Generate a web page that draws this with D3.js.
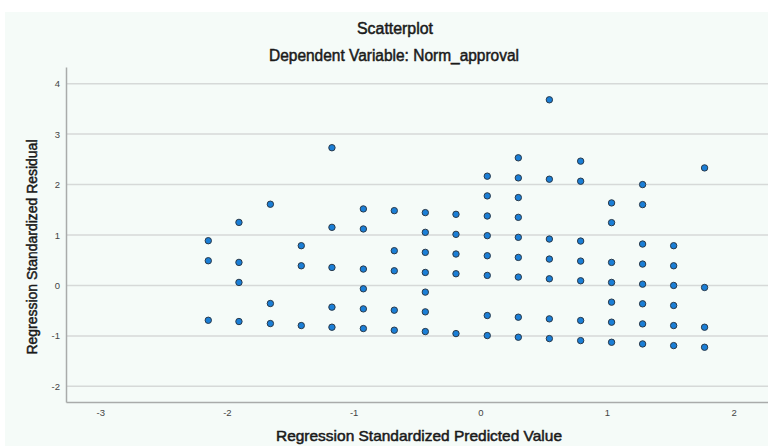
<!DOCTYPE html>
<html><head><meta charset="utf-8">
<script src="https://cdn.jsdelivr.net/npm/d3@7"></script>
<style>
body{margin:0;background:#fff;}
svg{display:block;font-family:"Liberation Sans",Arial,sans-serif;}
</style></head><body>
<svg id="c" width="768" height="446"></svg>
<script>
// Data: predicted value (x) and residual (y) columns
const xTicks = [-3, -2, -1, 0, 1, 2];
const yTicks = [-2, -1, 0, 1, 2, 3, 4];
const colX = [-2.147, -1.905, -1.657, -1.413, -1.171, -0.923, -0.679, -0.434, -0.192, 0.055, 0.30, 0.545, 0.792, 1.036, 1.281, 1.526, 1.77];
const colResiduals = [
  [0.887, 0.49, -0.69],
  [1.25, 0.457, 0.06, -0.715],
  [1.61, -0.358, -0.755],
  [0.788, 0.39, -0.795],
  [2.73, 1.152, 0.357, -0.43, -0.828],
  [1.517, 1.12, 0.325, -0.066, -0.464, -0.854],
  [1.483, 0.689, 0.291, -0.49, -0.887],
  [1.444, 1.053, 0.656, 0.258, -0.132, -0.523, -0.914],
  [1.41, 1.013, 0.623, 0.232, -0.954],
  [2.166, 1.775, 1.377, 0.987, 0.589, 0.199, -0.596, -0.993],
  [2.53, 2.132, 1.742, 1.35, 0.954, 0.556, 0.166, -0.629, -1.026],
  [3.68, 2.106, 0.92, 0.523, 0.132, -0.662, -1.053],
  [2.464, 2.066, 0.88, 0.483, 0.093, -0.695, -1.093],
  [1.636, 1.245, 0.457, 0.06, -0.331, -0.728, -1.126],
  [2.0, 1.603, 0.821, 0.424, 0.026, -0.364, -0.762, -1.159],
  [0.788, 0.39, 0.0, -0.397, -0.795, -1.192],
  [2.33, -0.04, -0.828, -1.225]
];
const title = "Scatterplot";
const subtitle = "Dependent Variable: Norm_approval";
const xTitle = "Regression Standardized Predicted Value";
const yTitle = "Regression Standardized Residual";

const points = [];
colX.forEach((xv, i) => colResiduals[i].forEach(yv => points.push({x: xv, y: yv})));

const svg = d3.select("#c");
const W = 768, H = 446;
const mLeft = 66, mTop = 67, mBottom = 402;
const x = d3.scaleLinear().domain([-3.27, 2.3]).range([mLeft, mLeft + 5.57 * 126.7]);
const y = d3.scaleLinear().domain([-2.31, 4.33]).range([mBottom, mTop]);

// panel background
svg.append("rect").attr("x", 5).attr("y", 12).attr("width", W - 5).attr("height", H - 12).attr("fill", "#f5fbf8");

function label(txt, xx, yy, size, len) {
  return svg.append("text").attr("x", xx).attr("y", yy).attr("text-anchor", "middle")
    .attr("font-size", size).attr("fill", "#1a1a1a").attr("stroke", "#1a1a1a").attr("stroke-width", 0.5)
    .attr("textLength", len).attr("lengthAdjust", "spacingAndGlyphs").text(txt);
}
// titles
label(title, 395, 34, 16, 76);
label(subtitle, 394, 61, 16, 250);

// gridlines
svg.append("g").selectAll("line").data(yTicks).join("line")
  .attr("x1", mLeft).attr("x2", W).attr("y1", d => y(d)).attr("y2", d => y(d))
  .attr("stroke", "#d6d9d8").attr("stroke-width", 1.5);

// axes
const fmt = d => String(d);
const yAxis = svg.append("g").attr("transform", `translate(${mLeft},0)`)
  .call(d3.axisLeft(y).tickValues(yTicks).tickSize(0).tickPadding(6).tickFormat(fmt));
const xAxis = svg.append("g").attr("transform", `translate(0,${mBottom})`)
  .call(d3.axisBottom(x).tickValues(xTicks).tickSize(0).tickPadding(7).tickFormat(fmt));
[yAxis, xAxis].forEach(g => {
  g.select(".domain").attr("stroke", "#a9abaa").attr("stroke-width", 1.5);
  g.selectAll("text").attr("font-size", 9.5).attr("fill", "#444").attr("font-family", "Liberation Sans, Arial, sans-serif");
});

// points
svg.append("g").selectAll("circle").data(points).join("circle")
  .attr("cx", d => x(d.x)).attr("cy", d => y(d.y)).attr("r", 3.2)
  .attr("fill", "#1a7ed6").attr("stroke", "#2a3a4a").attr("stroke-width", 1);

// axis titles
label(xTitle, 419, 441, 15, 286);
label(yTitle, 0, 0, 15, 215).attr("x", null).attr("y", null)
  .attr("transform", `translate(37,247) rotate(-90)`);
</script>
</body></html>
